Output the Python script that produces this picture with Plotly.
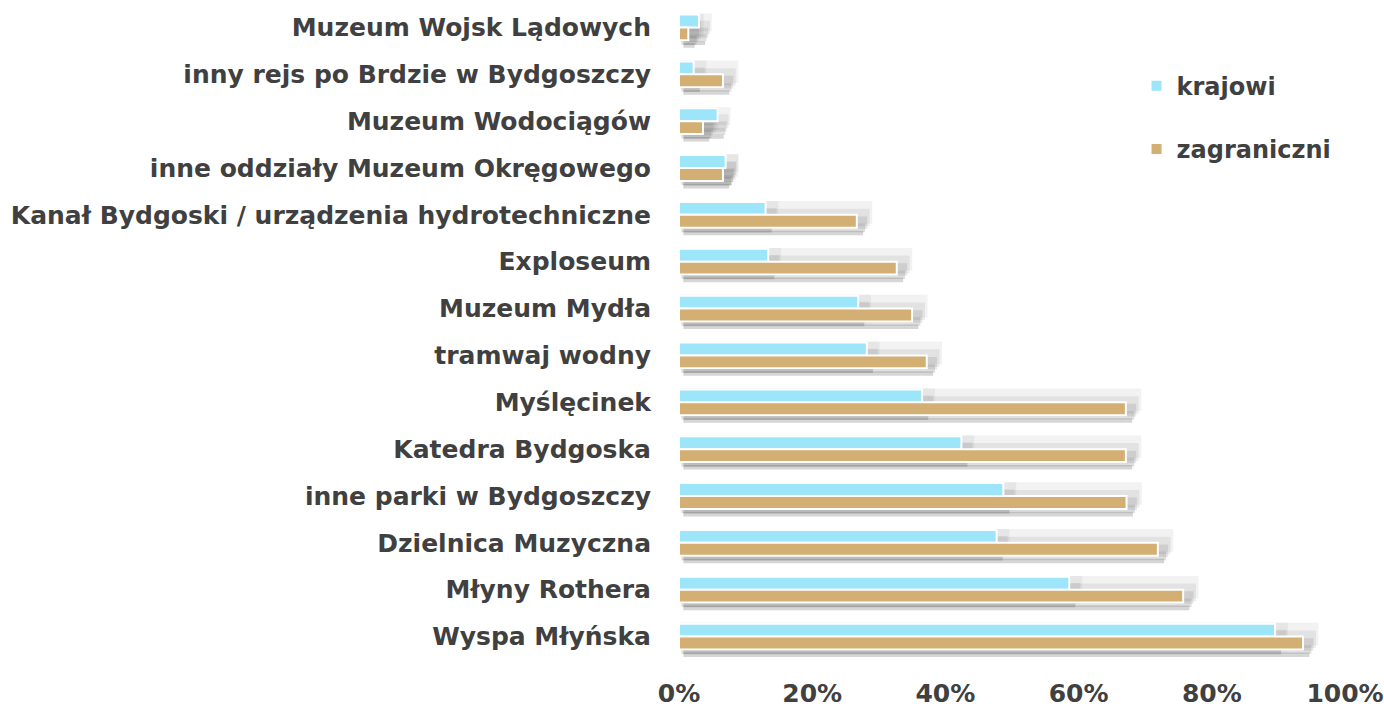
import plotly.graph_objects as go

categories = [
    "Muzeum Wojsk Lądowych",
    "inny rejs po Brdzie w Bydgoszczy",
    "Muzeum Wodociągów",
    "inne oddziały Muzeum Okręgowego",
    "Kanał Bydgoski / urządzenia hydrotechniczne",
    "Exploseum",
    "Muzeum Mydła",
    "tramwaj wodny",
    "Myślęcinek",
    "Katedra Bydgoska",
    "inne parki w Bydgoszczy",
    "Dzielnica Muzyczna",
    "Młyny Rothera",
    "Wyspa Młyńska",
]
krajowi = [3.0, 2.2, 5.8, 7.0, 13.0, 13.4, 26.9, 28.2, 36.5, 42.4, 48.7, 47.7, 58.6, 89.5]
zagraniczni = [1.4, 6.6, 3.6, 6.6, 26.7, 32.7, 35.0, 37.2, 67.1, 67.1, 67.2, 71.9, 75.7, 93.7]
tick_vals = [0, 20, 40, 60, 80, 100]
tick_text = ["0%", "20%", "40%", "60%", "80%", "100%"]

FONT = "DejaVu Sans"
TXT = "#404040"
C_K = "#9DE6FA"
C_Z = "#D3AF74"
SH = "#3a3a3a"
N = len(categories)

fig = go.Figure()

# soft drop shadows (base axes, shifted ranges), blurred by stacking widened layers
shadow_layers = [(20, 0.06), (15, 0.08), (10, 0.11), (6, 0.15), (2, 0.2)]
for lw, op in shadow_layers:
    for name, vals, k in [("krajowi", krajowi, 0.75), ("zagraniczni", zagraniczni, 1.0)]:
        fig.add_trace(go.Bar(
            y=categories, x=vals, orientation="h", name=name + "_s",
            marker=dict(color=SH, line=dict(color=SH, width=lw * k)),
            opacity=op, xaxis="x", yaxis="y", showlegend=False, hoverinfo="skip",
        ))

fig.add_trace(go.Bar(
    y=categories, x=krajowi, orientation="h", name="krajowi",
    marker=dict(color=C_K, line=dict(color="white", width=2)), legendgroup="a",
    xaxis="x2", yaxis="y2",
))
fig.add_trace(go.Bar(
    y=categories, x=zagraniczni, orientation="h", name="zagraniczni",
    marker=dict(color=C_Z, line=dict(color="white", width=2)), legendgroup="b",
    xaxis="x2", yaxis="y2",
))

tf = dict(family=FONT, size=25, color=TXT, weight="bold")

fig.update_layout(
    width=1384, height=707,
    margin=dict(l=679, r=39, t=4, b=47),
    paper_bgcolor="white", plot_bgcolor="white",
    barmode="group", bargap=0.45, bargroupgap=0.0,
    font=dict(family=FONT, color=TXT, size=25),
    showlegend=True,
    legend=dict(x=0.687, y=0.909, xanchor="left", yanchor="top",
                font=dict(family=FONT, size=24, color=TXT, weight="bold"), itemwidth=30,
                traceorder="grouped", tracegroupgap=29, bgcolor="rgba(0,0,0,0)"),
    xaxis=dict(range=[-0.8, 99.2], visible=False, automargin=False),
    yaxis=dict(categoryorder="array", categoryarray=categories,
               range=[N - 0.5 - 0.14, -0.5 - 0.14], visible=False, automargin=False),
    xaxis2=dict(range=[0, 100], tickvals=tick_vals, ticktext=tick_text, overlaying="x",
                side="bottom", anchor="y2",
                showgrid=False, zeroline=False, showline=False, automargin=False,
                ticks="outside", ticklen=11, tickcolor="rgba(0,0,0,0)", tickfont=tf),
    yaxis2=dict(categoryorder="array", categoryarray=categories,
                range=[N - 0.5, -0.5], overlaying="y", side="left", anchor="x2",
                showgrid=False, zeroline=False, showline=False, automargin=False,
                ticks="outside", ticklen=22, tickcolor="rgba(0,0,0,0)", tickfont=tf),
)

fig.write_html("out.html", config={"displayModeBar": False},
               post_script="document.body.style.margin='0';")
